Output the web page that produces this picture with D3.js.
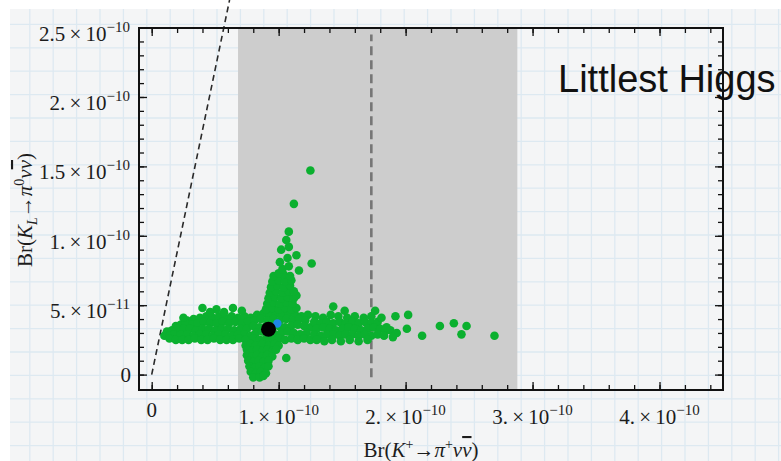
<!DOCTYPE html>
<html>
<head>
<meta charset="utf-8">
<title>Littlest Higgs</title>
<script src="https://d3js.org/d3.v7.min.js"></script>
<style>
  body {margin: 0; background: #fff;}
  .tick line {stroke: #111; stroke-width: 1.3px;}
  .lbl {font-family: "Liberation Serif", "Times New Roman", serif; fill: #1c1c1c;}
</style>
</head>
<body>
<svg id="chart" width="781" height="461"></svg>
<script>
// values in units of 1e-10
var xTickVals = [0, 1, 2, 3, 4],
    xTickMant = ["0", "1.", "2.", "3.", "4."],
    xTickExp  = [null, -10, -10, -10, -10];
var yTickVals = [0, 0.5, 1, 1.5, 2, 2.5],
    yTickMant = ["0", "5.", "1.", "1.5", "2.", "2.5"],
    yTickExp  = [null, -11, -10, -10, -10, -10];

// measured K+ branching ratio band and central value
var bandLo = 0.68, bandHi = 2.88, bandMid = 1.73;
// Grossman-Nir bound slope
var gnSlope = 4.4;

// [Br(K+ -> pi+ nu nubar), Br(KL -> pi0 nu nubar)]
var scan = [
  // left band
  [0.33,0.40],[0.38,0.41],[0.43,0.42],[0.48,0.41],[0.53,0.42],[0.58,0.41],[0.63,0.42],[0.68,0.41],[0.73,0.42],[0.78,0.41],[0.28,0.39],
  [0.19,0.35],[0.23,0.36],[0.27,0.37],[0.32,0.36],[0.36,0.37],[0.41,0.38],[0.46,0.37],[0.51,0.37],[0.56,0.38],[0.61,0.37],[0.66,0.38],[0.71,0.37],[0.76,0.38],
  [0.12,0.31],[0.16,0.32],[0.20,0.33],[0.25,0.33],[0.30,0.33],[0.35,0.32],[0.40,0.33],[0.45,0.33],[0.50,0.32],[0.55,0.33],[0.60,0.33],[0.65,0.32],[0.70,0.33],[0.75,0.33],
  [0.10,0.28],[0.14,0.28],[0.18,0.29],[0.23,0.29],[0.28,0.29],[0.33,0.28],[0.38,0.29],[0.43,0.29],[0.48,0.28],[0.53,0.29],[0.58,0.29],[0.63,0.28],[0.68,0.29],[0.73,0.29],[0.78,0.28],
  [0.14,0.26],[0.19,0.25],[0.24,0.25],[0.29,0.25],[0.34,0.26],[0.39,0.25],[0.44,0.25],[0.49,0.26],[0.54,0.25],[0.59,0.25],[0.64,0.25],[0.69,0.26],[0.74,0.25],
  [0.40,0.48],[0.51,0.47],[0.64,0.48],[0.46,0.45],[0.71,0.46],[0.25,0.41],[0.57,0.45],
  // centre of the band
  [0.83,0.43],[0.88,0.44],[0.93,0.43],[0.98,0.44],[1.03,0.43],[1.08,0.44],[1.13,0.43],[1.18,0.42],[1.23,0.43],
  [0.81,0.39],[0.86,0.40],[0.91,0.39],[0.96,0.40],[1.01,0.39],[1.06,0.40],[1.11,0.39],[1.16,0.40],[1.21,0.39],
  [0.80,0.35],[0.85,0.34],[0.90,0.35],[0.95,0.36],[1.00,0.35],[1.05,0.34],[1.10,0.35],[1.15,0.36],[1.20,0.35],[1.25,0.34],
  [0.82,0.30],[0.87,0.31],[0.92,0.30],[0.97,0.29],[1.02,0.30],[1.07,0.31],[1.12,0.30],[1.17,0.29],[1.22,0.30],
  [0.80,0.26],[0.85,0.25],[0.90,0.26],[0.95,0.25],[1.00,0.26],[1.05,0.25],[1.10,0.26],[1.15,0.25],[1.20,0.26],[1.25,0.25],
  // below the band
  [0.74,0.21],[0.78,0.22],[0.82,0.21],[0.87,0.22],[0.92,0.21],[0.97,0.22],[1.00,0.21],
  [0.75,0.18],[0.79,0.17],[0.83,0.18],[0.87,0.17],[0.91,0.18],[0.95,0.17],[0.98,0.18],
  [0.75,0.14],[0.79,0.13],[0.83,0.14],[0.87,0.13],[0.91,0.14],[0.95,0.13],
  [0.76,0.10],[0.80,0.09],[0.84,0.10],[0.88,0.09],[0.92,0.10],
  [0.77,0.06],[0.81,0.05],[0.85,0.06],[0.89,0.05],[0.92,0.06],
  [0.78,0.02],[0.82,0.01],[0.86,0.02],[0.90,0.01],
  [0.80,-0.02],[0.85,-0.02],[0.88,-0.01],
  [1.06,0.12],
  // spike
  [0.90,0.47],[0.95,0.48],[1.00,0.47],[1.05,0.48],[1.10,0.47],[1.14,0.48],
  [0.91,0.51],[0.96,0.52],[1.01,0.51],[1.06,0.52],[1.11,0.51],
  [0.92,0.55],[0.97,0.56],[1.02,0.55],[1.07,0.56],[1.12,0.55],[1.14,0.57],
  [0.93,0.59],[0.98,0.60],[1.03,0.59],[1.08,0.60],[1.12,0.60],
  [0.94,0.63],[0.99,0.64],[1.04,0.63],[1.09,0.64],
  [0.95,0.67],[1.00,0.68],[1.05,0.67],[1.10,0.68],
  [0.96,0.71],[1.04,0.72],[1.09,0.71],[1.00,0.73],[1.16,0.75],[1.03,0.76],[1.01,0.81],[1.07,0.84],[1.08,0.78],
  [1.26,0.80],[1.14,0.86],[1.08,0.92],[1.02,0.90],[1.06,0.97],[1.08,1.03],[1.12,1.23],[1.25,1.47],
  // right band
  [1.29,0.42],[1.35,0.41],[1.41,0.43],[1.47,0.42],[1.54,0.41],[1.60,0.42],[1.67,0.41],[1.73,0.42],
  [1.28,0.38],[1.33,0.37],[1.38,0.38],[1.43,0.37],[1.48,0.38],[1.53,0.37],[1.58,0.38],[1.63,0.37],[1.68,0.38],[1.73,0.37],[1.78,0.38],
  [1.30,0.33],[1.35,0.34],[1.40,0.33],[1.45,0.32],[1.50,0.33],[1.55,0.34],[1.60,0.33],[1.65,0.32],[1.70,0.33],[1.75,0.34],[1.80,0.33],[1.84,0.32],
  [1.28,0.29],[1.33,0.28],[1.38,0.29],[1.43,0.29],[1.48,0.28],[1.53,0.29],[1.58,0.29],[1.63,0.28],[1.68,0.29],[1.73,0.28],[1.78,0.29],[1.83,0.28],
  [1.30,0.25],[1.36,0.24],[1.42,0.25],[1.49,0.24],[1.56,0.25],[1.63,0.24],[1.70,0.25],
  [1.43,0.49],[1.52,0.46],[1.76,0.46],[1.81,0.41],[1.85,0.34],[1.88,0.32],[1.92,0.42],[1.93,0.30],[1.90,0.27],
  [2.02,0.43],[2.01,0.33],[2.13,0.28],[2.27,0.35],[2.38,0.37],[2.48,0.35],[2.44,0.29],[2.70,0.28]
];
var smPoint = [0.92, 0.327];
var bluePoint = [0.99, 0.368];

var svg = d3.select("#chart"),
    W = +svg.attr("width"), H = +svg.attr("height");

var plot = {left: 139, right: 723, top: 28, bottom: 390};

var x = d3.scaleLinear().domain([-0.1, 4.5]).range([plot.left, plot.right]),
    y = d3.scaleLinear().domain([-0.111, 2.497]).range([plot.bottom, plot.top]);

// grid paper background
var paper = svg.append("g");
paper.append("rect").attr("x", 10).attr("y", 9).attr("width", W - 10).attr("height", H - 9).attr("fill", "#f4f5f6");
var step = 23.4;
paper.selectAll(".gv").data(d3.range(29.8, W, step)).enter().append("line")
    .attr("x1", function (d) { return d; }).attr("x2", function (d) { return d; })
    .attr("y1", 9).attr("y2", H).attr("stroke", "#dde9f1").attr("stroke-width", 1.3);
paper.selectAll(".gh").data(d3.range(24.4, H, step)).enter().append("line")
    .attr("y1", function (d) { return d; }).attr("y2", function (d) { return d; })
    .attr("x1", 10).attr("x2", W).attr("stroke", "#dde9f1").attr("stroke-width", 1.3);

// experimental band
svg.append("rect")
    .attr("x", x(bandLo)).attr("y", plot.top)
    .attr("width", x(bandHi) - x(bandLo)).attr("height", plot.bottom - plot.top)
    .attr("fill", "#cdcdcd");

svg.append("line")
    .attr("x1", x(bandMid)).attr("x2", x(bandMid))
    .attr("y1", y(-0.02)).attr("y2", y(2.45))
    .attr("stroke", "#767676").attr("stroke-width", 2.6).attr("stroke-dasharray", "9,5");

// Grossman-Nir bound
var gnTop = y.invert(0);
svg.append("line")
    .attr("x1", x(0)).attr("y1", y(0))
    .attr("x2", x(gnTop / gnSlope)).attr("y2", y(gnTop))
    .attr("stroke", "#2a2a2a").attr("stroke-width", 1.6).attr("stroke-dasharray", "6,4");

// scan points
svg.append("g").selectAll("circle").data(scan).enter().append("circle")
    .attr("cx", function (d) { return x(d[0]); })
    .attr("cy", function (d) { return y(d[1]); })
    .attr("r", 4.3)
    .attr("fill", "#0bb02f");

svg.append("circle").attr("cx", x(bluePoint[0])).attr("cy", y(bluePoint[1])).attr("r", 4.2).attr("fill", "#1f86e6");
svg.append("circle").attr("cx", x(smPoint[0])).attr("cy", y(smPoint[1])).attr("r", 7.5).attr("fill", "#000");

// frame and ticks
var xMinor = d3.range(0, 4.41, 0.2), yMinor = d3.range(0, 2.51, 0.1);

function ticks(g, axis, vals, len) {
  g.call(axis.tickValues(vals).tickSize(-len).tickFormat(""))
   .call(function (s) { s.select(".domain").remove(); });
}
var frame = svg.append("g");
[[d3.axisBottom, "translate(0," + plot.bottom + ")", x, xMinor, xTickVals],
 [d3.axisTop, "translate(0," + plot.top + ")", x, xMinor, xTickVals],
 [d3.axisLeft, "translate(" + plot.left + ",0)", y, yMinor, yTickVals],
 [d3.axisRight, "translate(" + plot.right + ",0)", y, yMinor, yTickVals]].forEach(function (a) {
  frame.append("g").attr("transform", a[1]).call(ticks, a[0](a[2]), a[3], 5);
  frame.append("g").attr("transform", a[1]).call(ticks, a[0](a[2]), a[4], 8);
});
frame.append("rect")
    .attr("x", plot.left).attr("y", plot.top)
    .attr("width", plot.right - plot.left).attr("height", plot.bottom - plot.top)
    .attr("fill", "none").attr("stroke", "#111").attr("stroke-width", 2);

// tick labels like 2.5x10^-10
function sciText(t, mant, exp) {
  t.append("tspan").text(mant);
  if (exp != null) {
    t.append("tspan").text("\u2009\u00d7\u200910");
    t.append("tspan").attr("dy", -9).attr("font-size", 15).text("\u2212" + Math.abs(exp));
  }
}
xTickVals.forEach(function (v, i) {
  var t = svg.append("text").attr("class", "lbl").attr("font-size", 21)
      .attr("text-anchor", "middle")
      .attr("x", x(v)).attr("y", xTickExp[i] == null ? 417 : 424);
  sciText(t, xTickMant[i], xTickExp[i]);
});
yTickVals.forEach(function (v, i) {
  var t = svg.append("text").attr("class", "lbl").attr("font-size", 21)
      .attr("text-anchor", "end")
      .attr("x", yTickExp[i] == null ? 131 : 130)
      .attr("y", y(v) + (yTickExp[i] == null ? 7 : 13));
  sciText(t, yTickMant[i], yTickExp[i]);
});

// axis titles
function piece(t, txt, opt) {
  var s = t.append("tspan").text(txt);
  opt = opt || {};
  if (opt.it) s.attr("font-style", "italic");
  if (opt.dy) s.attr("dy", opt.dy);
  if (opt.fs) s.attr("font-size", opt.fs);
  if (opt.bar) s.attr("text-decoration", "overline");
  return s;
}
var xt = svg.append("text").attr("class", "lbl").attr("font-size", 21)
    .attr("text-anchor", "middle").attr("x", 421).attr("y", 457);
piece(xt, "Br(");
piece(xt, "K", {it: 1});
piece(xt, "+", {dy: -8, fs: 14});
piece(xt, "\u2192", {dy: 8});
piece(xt, "\u03c0", {it: 1});
piece(xt, "+", {dy: -8, fs: 14});
piece(xt, "\u03bd", {it: 1, dy: 8});
piece(xt, "\u03bd", {it: 1, bar: 1});
piece(xt, ")");

var yt = svg.append("text").attr("class", "lbl").attr("font-size", 21)
    .attr("text-anchor", "middle").attr("transform", "translate(32,210) rotate(-90)");
piece(yt, "Br(");
piece(yt, "K", {it: 1});
piece(yt, "L", {it: 1, dy: 5, fs: 14});
piece(yt, "\u2192", {dy: -5});
piece(yt, "\u03c0", {it: 1});
piece(yt, "0", {dy: -8, fs: 14});
piece(yt, "\u03bd", {it: 1, dy: 8});
piece(yt, "\u03bd", {it: 1, bar: 1});
piece(yt, ")");

svg.append("text")
    .attr("x", 558).attr("y", 92)
    .attr("font-family", "'Liberation Sans', Arial, sans-serif")
    .attr("font-size", 38).attr("fill", "#111")
    .text("Littlest Higgs");
</script>
</body>
</html>
